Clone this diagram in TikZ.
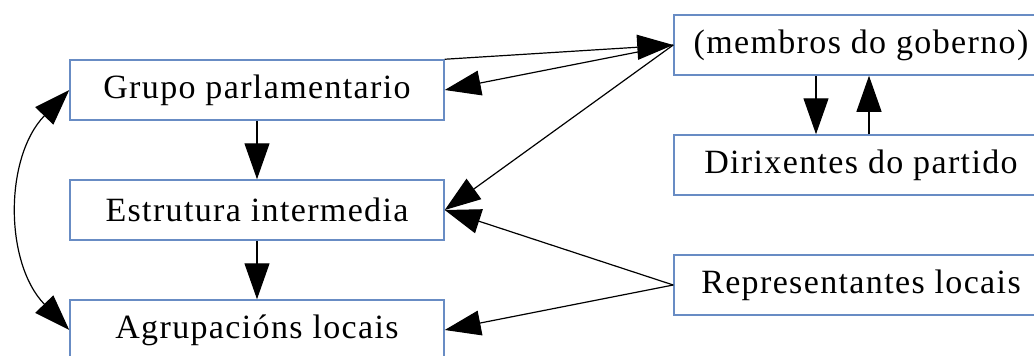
\documentclass[tikz,border=0pt]{standalone}
\usepackage{fontspec}
\setmainfont{Liberation Serif}[LetterSpace=4]
\usepackage{xcolor}
\usepackage{tikz}
\usetikzlibrary{arrows.meta,calc,positioning}
\definecolor{boxblue}{RGB}{104,140,196}

\begin{document}
\begin{tikzpicture}[x=1pt,y=-1pt,
	>={Triangle[length=36pt,width=25pt]},
	box/.style={draw=boxblue,line width=1.5pt,minimum width=374pt,minimum height=60pt,inner sep=0pt,font=\fontsize{34}{40}\selectfont},
	link/.style={->,line width=1.2pt}]
	\useasboundingbox (0,0) rectangle (1034,356);
	% left column
	\node[box] (grupo)       at (257,90)  {Grupo parlamentario};
	\node[box] (estrutura)   at (257,210) {Estrutura intermedia};
	\node[box] (agrupacions) at (257,330) {Agrupacións locais};
	% right column
	\node[box] (membros)     at (861,45)  {(membros do goberno)};
	\node[box] (dirixentes)  at (861,165) {Dirixentes do partido};
	\node[box] (locais)      at (861,285) {Representantes locais};
	% links
	\draw[link] (grupo) -- (estrutura);
	\draw[link] (estrutura) -- (agrupacions);
	\draw[link] (grupo.north east) -- (membros.west);
	\draw[link] (membros.west) -- (grupo.east);
	\draw[link] (membros.west) -- (estrutura.east);
	\draw[link] (locais.west) -- (estrutura.east);
	\draw[link] (locais.west) -- (agrupacions.east);
	\draw[link] ([xshift=-45pt]membros.south) -- ([xshift=-45pt]dirixentes.north);
	\draw[link] ([xshift=8pt]dirixentes.north) -- ([xshift=8pt]membros.south);
	\draw[<->,line width=1.2pt] (grupo.west) to[bend right=44] (agrupacions.west);
\end{tikzpicture}
\end{document}
